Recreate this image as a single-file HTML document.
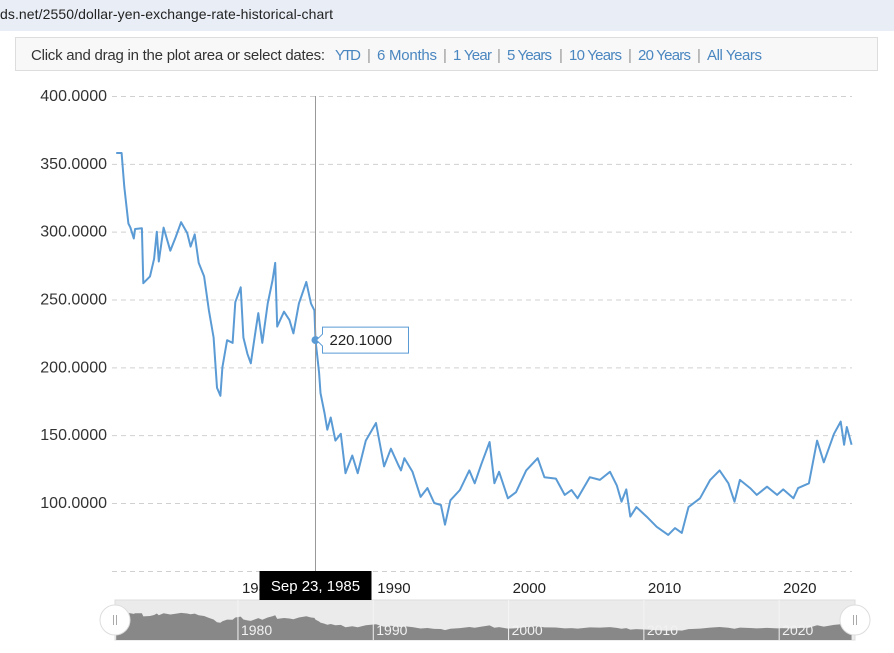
<!DOCTYPE html>
<html><head><meta charset="utf-8"><style>
html,body{margin:0;padding:0;background:#fff;width:894px;height:653px;overflow:hidden;font-family:"Liberation Sans",sans-serif}
</style></head><body>
<svg id="chart" width="894" height="653" xmlns="http://www.w3.org/2000/svg">
<rect x="0" y="0" width="894" height="31" fill="#e9eef6"/>
<text x="0" y="19" font-size="14" fill="#222" font-family="Liberation Sans Narrow, Liberation Sans, sans-serif" textLength="333">ds.net/2550/dollar-yen-exchange-rate-historical-chart</text>
<rect x="15.5" y="37.5" width="862" height="33" fill="#f8f8f8" stroke="#ddd"/>
<text y="60" font-size="15" font-family="Liberation Sans Narrow, Liberation Sans, sans-serif">
<tspan x="31" fill="#333" textLength="294">Click and drag in the plot area or select dates:</tspan>
<tspan x="335" fill="#4a86c0" textLength="26">YTD</tspan>
<tspan x="367" fill="#999">|</tspan>
<tspan x="377" fill="#4a86c0" textLength="60">6 Months</tspan>
<tspan x="443" fill="#999">|</tspan>
<tspan x="453" fill="#4a86c0" textLength="39">1 Year</tspan>
<tspan x="497" fill="#999">|</tspan>
<tspan x="507" fill="#4a86c0" textLength="45">5 Years</tspan>
<tspan x="559" fill="#999">|</tspan>
<tspan x="569" fill="#4a86c0" textLength="53">10 Years</tspan>
<tspan x="628" fill="#999">|</tspan>
<tspan x="638" fill="#4a86c0" textLength="53">20 Years</tspan>
<tspan x="697" fill="#999">|</tspan>
<tspan x="707" fill="#4a86c0" textLength="55">All Years</tspan>
</text>
<g id="grid"></g><g id="nav"></g><g id="plot"></g><g id="overlay"></g>
</svg>
<script>
const yTicks=[100,150,200,250,300,350,400];
const yTickLabels=["100.0000","150.0000","200.0000","250.0000","300.0000","350.0000","400.0000"];
const xTicks=[1980,1990,2000,2010,2020];
const xTickLabels=["1980","1990","2000","2010","2020"];
const years=[1971.0,1971.4,1971.6,1971.9,1972.05,1972.3,1972.4,1972.9,1973.0,1973.5,1973.8,1974.0,1974.15,1974.5,1975.0,1975.4,1975.8,1976.25,1976.5,1976.8,1977.1,1977.5,1977.85,1978.2,1978.45,1978.7,1978.85,1979.2,1979.6,1979.8,1980.2,1980.4,1980.7,1980.95,1981.3,1981.5,1981.8,1982.2,1982.55,1982.75,1982.9,1983.4,1983.8,1984.1,1984.5,1985.05,1985.4,1985.65,1985.73,1986.0,1986.1,1986.4,1986.6,1986.85,1987.2,1987.6,1987.95,1988.45,1988.85,1989.45,1990.2,1990.8,1991.3,1991.85,1992.05,1992.3,1992.9,1993.5,1994.0,1994.5,1995.0,1995.3,1995.7,1996.4,1997.1,1997.5,1998.0,1998.6,1998.95,1999.3,1999.95,2000.55,2001.3,2002.15,2002.65,2003.5,2004.15,2004.65,2005.1,2006.0,2006.75,2007.5,2008.0,2008.35,2008.7,2009.0,2009.45,2010.2,2010.95,2011.8,2012.3,2012.8,2013.3,2014.15,2014.9,2015.6,2016.25,2016.7,2017.1,2017.85,2018.35,2019.1,2019.85,2020.3,2021.05,2021.4,2022.2,2022.8,2023.3,2024.05,2024.55,2024.8,2025.0,2025.35];
const rates=[358,358,333,306,303,295,302,302.5,262,267,280,300,278,303,286,296,307,299,289,298,277,267,242,222,185,179,200,220,218,248,259,222,210,203,227,240,218,247,264,277,230,241,235,225,247,263,247,242,220.1,196,181,166,154,163,146,151,122,135,122,146,159,127,140,128,124,133,123,104.5,111,100,98.5,84,102,109.6,124,114.5,129,145,114.5,123,103.5,108,124,133,119,118,106,109.6,103.5,119,117,123,113,101,110,90,97,90,82.5,76.5,81.5,78,97,103.5,117,124,114.5,101,117,111,106,112,106,110,103.5,111,114.5,146,130,151,160,143,156,143];
const hoverYear=1985.73, hoverValue="220.1000", hoverDate="Sep 23, 1985";

const NS="http://www.w3.org/2000/svg";
const X0=116.2, PX=13.53;
function xs(yr){return X0+(yr-1971)*PX;}
function ys(v){return 96+(400-v)*1.3567;}
function nys(v){return 609+(358-v)*0.077;}
function mk(tag,attrs,parent){const e=document.createElementNS(NS,tag);for(const k in attrs)e.setAttribute(k,attrs[k]);parent.appendChild(e);return e;}
const grid=document.getElementById('grid'),plot=document.getElementById('plot'),nav=document.getElementById('nav'),ov=document.getElementById('overlay');

yTicks.forEach((t,i)=>{
  const l=mk('line',{x1:112,x2:852,y1:ys(t)+0.5,y2:ys(t)+0.5,stroke:'#d0d0d0','stroke-dasharray':'5,4'},grid);
  
  
  const tx=mk('text',{x:107,y:ys(t)+5,'text-anchor':'end','font-size':16,fill:'#333'},grid);
  tx.textContent=yTickLabels[i];
  
  
});
const base=mk('line',{x1:112,x2:852,y1:571.5,y2:571.5,stroke:'#d0d0d0','stroke-dasharray':'5,4'},grid);


xTicks.forEach((t,i)=>{
  const tx=mk('text',{x:xs(t)+4,y:593,'font-size':15,fill:'#222'},grid);
  tx.textContent=xTickLabels[i];
  
  
});

// navigator
const nbg=mk('rect',{x:115,y:600,width:740,height:40,fill:'#ebebeb',stroke:'#ddd'},nav);


let nd='M'+xs(years[0])+',640';
years.forEach((yr,i)=>{nd+=' L'+xs(yr).toFixed(1)+','+nys(rates[i]).toFixed(1);});
nd+=' L'+xs(years[years.length-1])+',640 Z';
const na=mk('path',{d:nd,fill:'#888'},nav);


xTicks.forEach((t,i)=>{
  const l=mk('line',{x1:xs(t),x2:xs(t),y1:600,y2:640,stroke:'#f4f4f4'},nav);
  
  
  const tx=mk('text',{x:xs(t)+3,y:635,'font-size':14,fill:'#f2f2f2'},nav);
  tx.textContent=xTickLabels[i];
  
  
});
[115,855].forEach((hx,i)=>{
  const c=mk('circle',{cx:hx,cy:620,r:15,fill:'#fff',stroke:'#ddd','stroke-width':1},nav);
  
  
  mk('line',{x1:hx-1.5,x2:hx-1.5,y1:615,y2:625,stroke:'#aaa'},nav);
  mk('line',{x1:hx+1.5,x2:hx+1.5,y1:615,y2:625,stroke:'#aaa'},nav);
});

// main series
let d='';
years.forEach((yr,i)=>{d+=(i?' L':'M')+xs(yr).toFixed(1)+','+ys(rates[i]).toFixed(1);});
const line=mk('path',{d:d,fill:'none',stroke:'#5b9bd5','stroke-width':2,'stroke-linejoin':'round'},plot);



// crosshair and tooltip
const hx=xs(hoverYear), hy=ys(parseFloat(hoverValue));
const ch=mk('line',{x1:hx,x2:hx,y1:96,y2:600,stroke:'#999','stroke-width':1},ov);


const mkr=mk('circle',{cx:hx,cy:hy,r:4,fill:'#5b9bd5'},ov);


const tb=mk('path',{d:`M${hx+7},${hy-13} H${hx+93} V${hy+13} H${hx+7} V${hy+6} L${hx+1},${hy} L${hx+7},${hy-6} Z`,fill:'#fff',stroke:'#5b9bd5'},ov);


const tt=mk('text',{x:hx+14,y:hy+5,'font-size':15,fill:'#222'},ov);
tt.textContent=hoverValue;


const db=mk('rect',{x:hx-56,y:571,width:112,height:29,fill:'#000'},ov);


const dt=mk('text',{x:hx,y:591,'font-size':15,fill:'#fff','text-anchor':'middle'},ov);
dt.textContent=hoverDate;


</script>
</body></html>
